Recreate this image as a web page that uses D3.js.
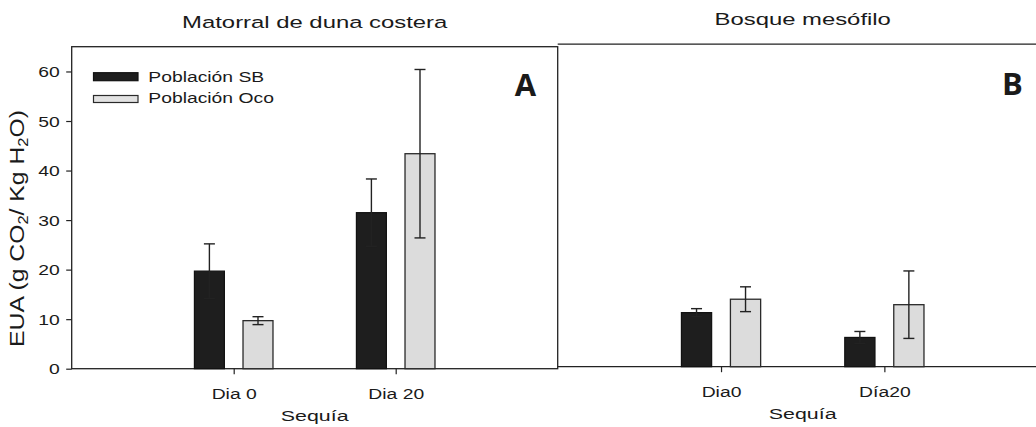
<!DOCTYPE html>
<html><head><meta charset="utf-8">
<script src="https://cdn.jsdelivr.net/npm/d3@7"></script>
<style>html,body{margin:0;padding:0;background:#fff;}svg{display:block;}</style>
</head><body>
<script>
// ---- data ----
const categoriesA = ["Dia 0", "Dia 20"];
const categoriesB = ["Dia0", "Día20"];
const seriesNames = ["Población SB", "Población Oco"];
const sbA = [19.7, 31.5];
const sbErrA = [5.5, 6.8];
const ocoA = [9.7, 43.4];
const ocoErrA = [0.8, 17.0];
const sbB = [10.9, 5.9];
const sbErrB = [0.8, 1.2];
const ocoB = [13.6, 12.5];
const ocoErrB = [2.5, 6.8];
const yTicks = [0, 10, 20, 30, 40, 50, 60];
const panelTitles = ["Matorral de duna costera", "Bosque mesófilo"];
const panelLetters = ["A", "B"];
const xTitle = "Sequía";

// ---- layout ----
const W = 1036, H = 427, SX = 1.38;
const FONT = "'Liberation Sans', Arial, sans-serif";
const INK = "#1a1a1a";
const darkFill = "#1e1e1e", lightFill = "#dcdcdc";

const svg = d3.select("body").append("svg").attr("width", W).attr("height", H);
svg.append("rect").attr("width", W).attr("height", H).attr("fill", "#fff");

function stext(g, str, x, y, size, anchor, weight, family, sx) {
  return g.append("text")
    .attr("transform", `translate(${x},${y}) scale(${sx === undefined ? SX : sx},1)`)
    .attr("text-anchor", anchor || "middle")
    .attr("font-family", family || FONT)
    .attr("font-size", size)
    .attr("font-weight", weight || "normal")
    .attr("fill", INK)
    .text(str);
}

const panels = [
  {left: 71.7, top: 46.7, width: 486, height: 322, cats: categoriesA, sb: sbA, sbE: sbErrA, oco: ocoA, ocoE: ocoErrA,
   title: panelTitles[0], letter: panelLetters[0], letterX: 525.5, letterY: 96, yAxis: true, fullBox: true},
  {left: 557.7, top: 44.2, width: 490, height: 322.5, cats: categoriesB, sb: sbB, sbE: sbErrB, oco: ocoB, ocoE: ocoErrB,
   title: panelTitles[1], letter: panelLetters[1], letterX: 1012.5, letterY: 95, yAxis: false, fullBox: false}
];

panels.forEach(p => {
  const g = svg.append("g").attr("transform", `translate(${p.left},${p.top})`);
  const x = d3.scaleLinear().domain([0, 3]).range([0, p.width]);
  const y = d3.scaleLinear().domain([0, 65]).range([p.height, 0]);
  const bw = x(0.185) - x(0);
  const off = x(0.15) - x(0);
  const cx = i => x(i + 1);

  // frame
  const lineStyle = s => s.attr("stroke", "#222").attr("stroke-width", 1.3).attr("fill", "none");
  if (p.fullBox) {
    lineStyle(g.append("rect").attr("x", 0).attr("y", 0).attr("width", p.width).attr("height", p.height));
  } else {
    lineStyle(g.append("path").attr("d", `M0,0H${p.width}V${p.height}H0`));
  }

  // bars
  const rows = p.cats.map((c, i) => ({i, sb: p.sb[i], sbE: p.sbE[i], oco: p.oco[i], ocoE: p.ocoE[i]}));
  g.selectAll(".sb").data(rows).join("rect")
    .attr("x", d => cx(d.i) - off - bw / 2).attr("width", bw)
    .attr("y", d => y(d.sb)).attr("height", d => y(0) - y(d.sb))
    .attr("fill", darkFill).attr("stroke", "#111").attr("stroke-width", 1.2);
  g.selectAll(".oco").data(rows).join("rect")
    .attr("x", d => cx(d.i) + off - bw / 2).attr("width", bw)
    .attr("y", d => y(d.oco)).attr("height", d => y(0) - y(d.oco))
    .attr("fill", lightFill).attr("stroke", "#2a2a2a").attr("stroke-width", 1.3);

  // error bars
  const errs = [];
  rows.forEach(d => {
    errs.push({c: cx(d.i) - off, v: d.sb, e: d.sbE});
    errs.push({c: cx(d.i) + off, v: d.oco, e: d.ocoE});
  });
  const cap = 5.5;
  const eg = g.selectAll(".err").data(errs).join("g");
  eg.append("line").attr("x1", d => d.c).attr("x2", d => d.c)
    .attr("y1", d => y(d.v + d.e)).attr("y2", d => y(d.v - d.e));
  eg.append("line").attr("x1", d => d.c - cap).attr("x2", d => d.c + cap)
    .attr("y1", d => y(d.v + d.e)).attr("y2", d => y(d.v + d.e));
  eg.append("line").attr("x1", d => d.c - cap).attr("x2", d => d.c + cap)
    .attr("y1", d => y(d.v - d.e)).attr("y2", d => y(d.v - d.e));
  eg.selectAll("line").attr("stroke", "#222").attr("stroke-width", 1.4);

  // x axis
  const xa = g.append("g").attr("transform", `translate(0,${p.height})`)
    .call(d3.axisBottom(x).tickValues([1, 2]).tickFormat((d, i) => p.cats[i]).tickSize(5.5).tickSizeOuter(0));
  xa.select(".domain").remove();
  xa.selectAll(".tick line").attr("stroke", "#222").attr("stroke-width", 1.2);
  xa.selectAll(".tick text").attr("y", 0).attr("dy", 0)
    .attr("transform", `translate(0,30) scale(${SX},1)`)
    .attr("font-family", FONT).attr("font-size", 14).attr("fill", INK);

  // y axis
  if (p.yAxis) {
    const ya = g.append("g").call(d3.axisLeft(y).tickValues(yTicks).tickFormat(d3.format("d")).tickSize(5.5).tickSizeOuter(0));
    ya.select(".domain").remove();
    ya.selectAll(".tick line").attr("stroke", "#222").attr("stroke-width", 1.2);
    ya.selectAll(".tick text").attr("x", 0).attr("dy", "0.36em")
      .attr("transform", `translate(-12,0) scale(${SX},1)`)
      .attr("font-family", FONT).attr("font-size", 14).attr("fill", INK);
  }

  // titles
  stext(svg, p.title, p.left + p.width / 2, p.top - 19.2, 17.3);
  stext(svg, xTitle, p.left + p.width / 2, p.top + p.height + 52.5, 15.5);
  stext(svg, p.letter, p.letterX, p.letterY, 31, "middle", "bold", "'Open Sans', sans-serif", 1);
});

// legend
const legend = svg.append("g");
const legRows = [
  {name: seriesNames[0], fill: darkFill, stroke: "#111", y: 72.7, h: 8, ty: 81.7},
  {name: seriesNames[1], fill: "#e2e2e2", stroke: "#2a2a2a", y: 95.5, h: 7, ty: 102.8}
];
legRows.forEach(r => {
  legend.append("rect").attr("x", 93.5).attr("y", r.y).attr("width", 44.5).attr("height", r.h)
    .attr("fill", r.fill).attr("stroke", r.stroke).attr("stroke-width", 1.2);
  stext(legend, r.name, 148.3, r.ty, 14, "start");
});

// y axis label
const yl = svg.append("g").attr("transform", "translate(24,228.5) rotate(-90)");
const ylt = yl.append("text").attr("text-anchor", "middle").attr("font-family", FONT)
  .attr("font-size", 15).attr("fill", INK);
ylt.append("tspan").text("EUA (g CO");
ylt.append("tspan").attr("font-size", 10).attr("dy", 3).text("2");
ylt.append("tspan").attr("dy", -3).text("/ Kg H");
ylt.append("tspan").attr("font-size", 10).attr("dy", 3).text("2");
ylt.append("tspan").attr("dy", -3).text("O)");
const wl = ylt.node().getComputedTextLength();
yl.attr("transform", `translate(24,228.5) rotate(-90) scale(${237 / wl},${SX})`);
</script>
</body></html>
